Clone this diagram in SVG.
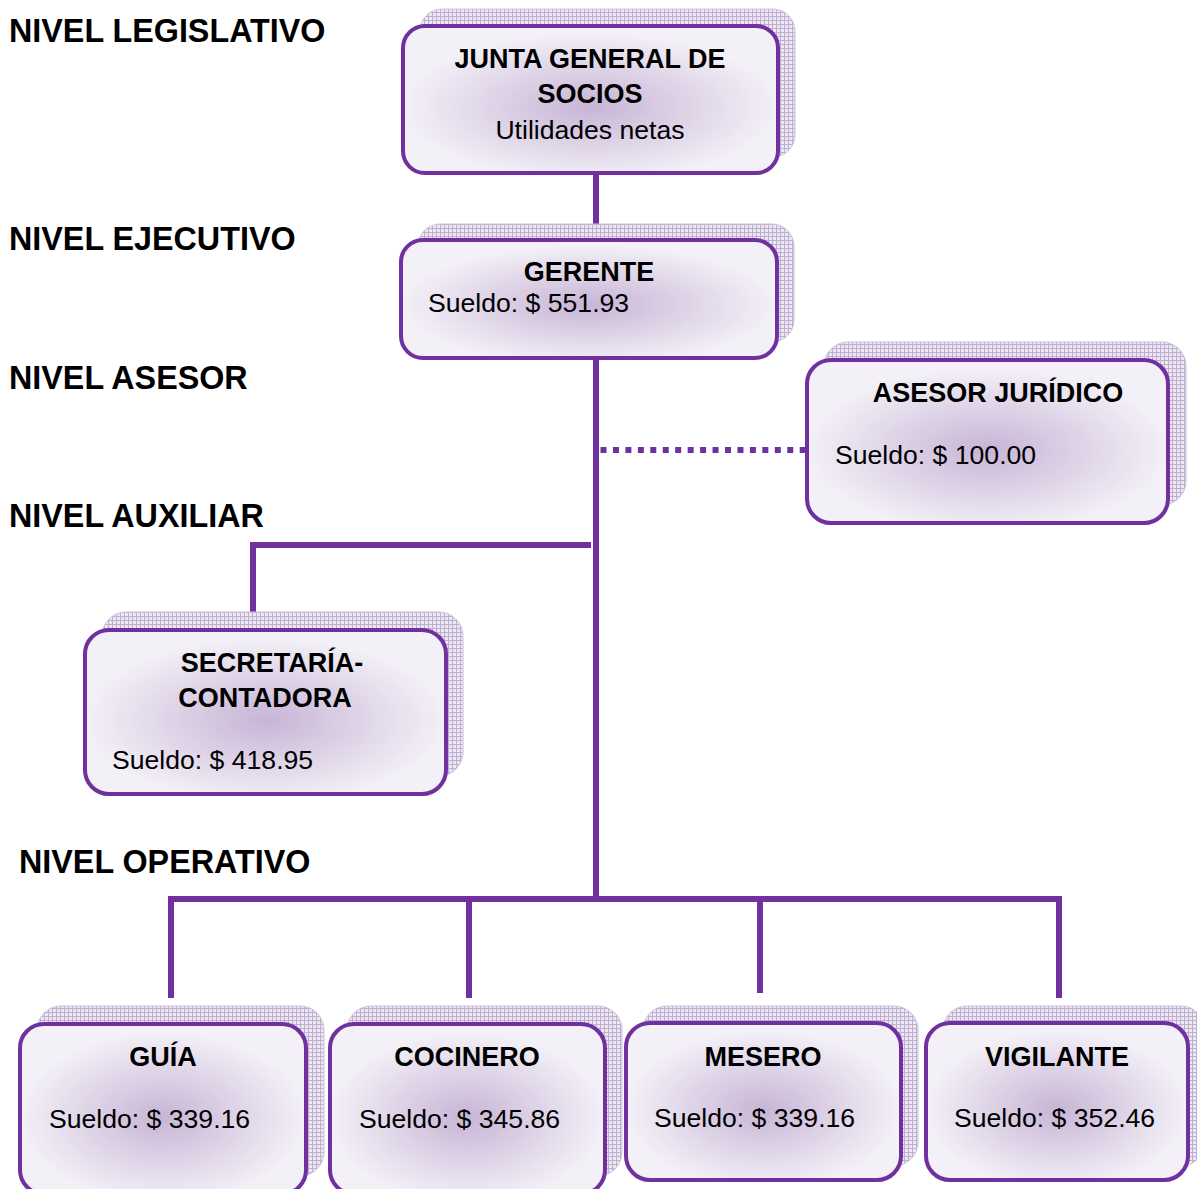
<svg xmlns="http://www.w3.org/2000/svg" width="1197" height="1189" viewBox="0 0 1197 1189">
<defs>
<pattern id="grid" width="4" height="4" patternUnits="userSpaceOnUse">
<rect width="4" height="4" fill="#ECE7F2"/>
<path d="M0 0.5H4M0.5 0V4" stroke="#BEAED0" stroke-width="1"/>
</pattern>
<radialGradient id="glow" cx="0.5" cy="0.55" r="0.5">
<stop offset="0" stop-color="#C8B5D6"/>
<stop offset="0.5" stop-color="#DDD2E6"/>
<stop offset="1" stop-color="#F3F0F7"/>
</radialGradient>
<style>
.sh{fill:url(#grid);stroke:#CDC2DB;stroke-width:1}
.bx{fill:url(#glow);stroke:#7030A0;stroke-width:4}
.t{font-family:"Liberation Sans",Arial,sans-serif;font-size:26.6px;fill:#000}
.b{font-weight:bold;font-size:27px}
.m{text-anchor:middle}
.lv{font-family:"Liberation Sans",Arial,sans-serif;font-size:32.3px;font-weight:bold;fill:#000}
.c{stroke:#7030A0;stroke-width:6;fill:none}
.d{stroke:#7030A0;stroke-width:6;fill:none;stroke-dasharray:6 6.45}
</style>
</defs>
<rect width="1197" height="1189" fill="#fff"/>
<g id="levels">
<text class="lv" x="9" y="42">NIVEL LEGISLATIVO</text>
<text class="lv" x="9" y="250">NIVEL EJECUTIVO</text>
<text class="lv" x="9" y="389">NIVEL ASESOR</text>
<text class="lv" x="9" y="527">NIVEL AUXILIAR</text>
<text class="lv" x="19" y="873">NIVEL OPERATIVO</text>
</g>
<g id="connectors">
<line class="c" x1="596" y1="174" x2="596" y2="240"/>
<line class="c" x1="596" y1="358" x2="596" y2="902"/>
<line class="d" x1="600.5" y1="450" x2="806" y2="450"/>
<polyline class="c" points="591,545 253,545 253,624"/>
<polyline class="c" points="171,998 171,899 1059,899 1059,998"/>
<line class="c" x1="469" y1="899" x2="469" y2="998"/>
<line class="c" x1="760" y1="899" x2="760" y2="993"/>
</g>
<g id="junta">
<rect class="sh" x="420" y="9" width="375" height="148" rx="22"/>
<rect class="bx" x="403" y="26" width="375" height="147" rx="22"/>
<text class="t b m" x="590" y="68">JUNTA GENERAL DE</text>
<text class="t b m" x="590" y="103">SOCIOS</text>
<text class="t m" x="590" y="139">Utilidades netas</text>
</g>
<g id="gerente">
<rect class="sh" x="418" y="224" width="376" height="118" rx="22"/>
<rect class="bx" x="401" y="240" width="376" height="118" rx="22"/>
<text class="t b m" x="589" y="281">GERENTE</text>
<text class="t" x="428" y="312">Sueldo: $ 551.93</text>
</g>
<g id="asesor">
<rect class="sh" x="824" y="342" width="362" height="163" rx="24"/>
<rect class="bx" x="807" y="360" width="361" height="163" rx="24"/>
<text class="t b m" x="998" y="402">ASESOR JURÍDICO</text>
<text class="t" x="835" y="464">Sueldo: $ 100.00</text>
</g>
<g id="secretaria">
<rect class="sh" x="102" y="612" width="361" height="164" rx="24"/>
<rect class="bx" x="85" y="630" width="361" height="164" rx="24"/>
<text class="t b m" x="272" y="672">SECRETARÍA-</text>
<text class="t b m" x="265" y="707">CONTADORA</text>
<text class="t" x="112" y="769">Sueldo: $ 418.95</text>
</g>
<g id="guia">
<rect class="sh" x="37" y="1006" width="287" height="170" rx="24"/>
<rect class="bx" x="20" y="1024" width="286" height="170" rx="24"/>
<text class="t b m" x="163" y="1066">GUÍA</text>
<text class="t" x="49" y="1128">Sueldo: $ 339.16</text>
</g>
<g id="cocinero">
<rect class="sh" x="347" y="1006" width="275" height="170" rx="24"/>
<rect class="bx" x="330" y="1024" width="275" height="170" rx="24"/>
<text class="t b m" x="467" y="1066">COCINERO</text>
<text class="t" x="359" y="1128">Sueldo: $ 345.86</text>
</g>
<g id="mesero">
<rect class="sh" x="643" y="1006" width="275" height="160" rx="24"/>
<rect class="bx" x="626" y="1023" width="275" height="157" rx="24"/>
<text class="t b m" x="763" y="1066">MESERO</text>
<text class="t" x="654" y="1127">Sueldo: $ 339.16</text>
</g>
<g id="vigilante">
<rect class="sh" x="943" y="1006" width="262" height="160" rx="24"/>
<rect class="bx" x="926" y="1023" width="262" height="157" rx="24"/>
<text class="t b m" x="1057" y="1066">VIGILANTE</text>
<text class="t" x="954" y="1127">Sueldo: $ 352.46</text>
</g>
</svg>
